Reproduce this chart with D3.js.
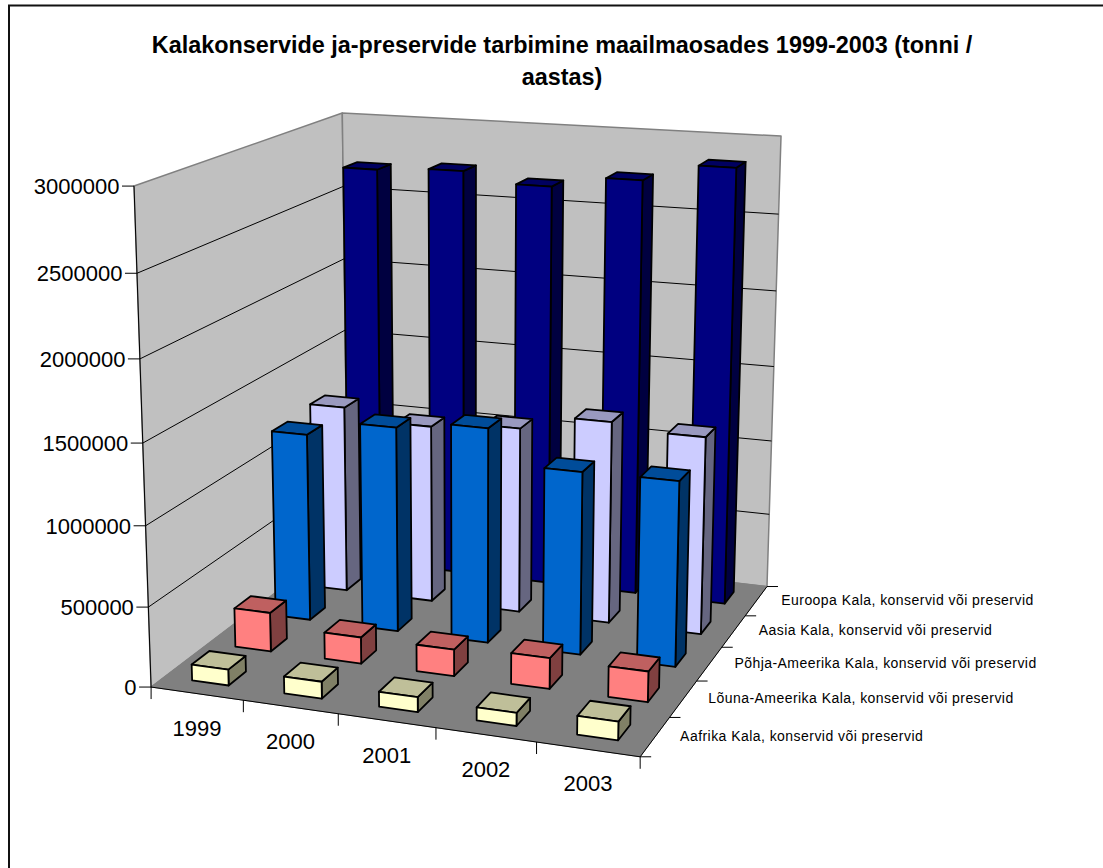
<!DOCTYPE html>
<html><head><meta charset="utf-8">
<script src="https://cdn.jsdelivr.net/npm/d3@7"></script>
<style>html,body{margin:0;padding:0;background:#fff}svg{display:block}text{font-family:"Liberation Sans",Arial,sans-serif;fill:#000}</style>
</head><body><div id="c"></div>
<script>
const categories = ["1999","2000","2001","2002","2003"];
const seriesNames = [
 "Aafrika Kala, konservid või preservid",
 "Lõuna-Ameerika Kala, konservid või preservid",
 "Põhja-Ameerika Kala, konservid või preservid",
 "Aasia Kala, konservid või preservid",
 "Euroopa Kala, konservid või preservid"];
const aafrika = [100000,105000,92000,80000,112000];
const louna = [250000,168000,168000,193000,190000];
const pohja = [1223000,1327000,1380000,1165000,1170000];
const aasia = [1246000,1175000,1220000,1320000,1280000];
const euroopa = [2705000,2730000,2665000,2740000,2854000];
const seriesValues = [aafrika,louna,pohja,aasia,euroopa];
const yTicks = [0,500000,1000000,1500000,2000000,2500000,3000000];
const frontColors = ["#FFFFCC","#FF8080","#0066CC","#CCCCFF","#000080"];
const sideColors = ["#808066","#804040","#003366","#666680","#000040"];
const topColors = ["#BFBF99","#BF6060","#004C99","#9999BF","#000060"];
const W=1103,H=868;
const svg=d3.select("#c").append("svg").attr("width",W).attr("height",H);

// calibration: cube corners [x,y,z] -> pixel
const calib=[
 [0,0,0,152,687],[0,1,0,133,186],[1,0,0,640,757],
 [1,0,1,767,587],[1,1,1,781,137],[0,0,1,347,538],[0,1,1,343,113],
 [0,.5,0,143,443],[1,.5,1,774,365]];
function solve(A,b){const n=b.length;const M=A.map((r,i)=>[...r,b[i]]);
 for(let i=0;i<n;i++){let p=i;for(let k=i+1;k<n;k++)if(Math.abs(M[k][i])>Math.abs(M[p][i]))p=k;[M[i],M[p]]=[M[p],M[i]];
  for(let k=0;k<n;k++)if(k!==i){const f=M[k][i]/M[i][i];for(let j=i;j<=n;j++)M[k][j]-=f*M[i][j];}}
 return M.map((r,i)=>r[n]/r[i]);}
const rows=[],rhs=[];
calib.forEach(([x,y,z,u,v])=>{
 rows.push([x,y,z,1,0,0,0,0,-u*x,-u*y,-u*z]);rhs.push(u);
 rows.push([0,0,0,0,x,y,z,1,-v*x,-v*y,-v*z]);rhs.push(v);});
const AtA=d3.range(11).map(i=>d3.range(11).map(j=>d3.sum(rows,r=>r[i]*r[j])));
const Atb=d3.range(11).map(i=>d3.sum(rows,(r,k)=>r[i]*rhs[k]));
const P=solve(AtA,Atb);
const proj=(x,y,z)=>{const w=P[8]*x+P[9]*y+P[10]*z+1;return [(P[0]*x+P[1]*y+P[2]*z+P[3])/w,(P[4]*x+P[5]*y+P[6]*z+P[7])/w];};

const xS=d3.scaleBand().domain(categories).range([0,1]).paddingInner(0.6).paddingOuter(0.3);
const zS=d3.scaleBand().domain(d3.range(5)).range([0,1]).paddingInner(0.6).paddingOuter(0.3);
const yS=d3.scaleLinear().domain([0,3000000]).range([0,1]);
const xEdge=d3.scaleLinear().domain([0,5]).range([0,1]);
const line=d3.line();
const poly=(pts,fill,stroke,sw)=>svg.append("path").attr("d",line(pts.map(p=>proj(...p)))+"Z").attr("fill",fill).attr("stroke",stroke||"none").attr("stroke-width",sw||0).attr("stroke-linejoin","round");
const seg=(a,b,stroke,sw)=>svg.append("line").attr("x1",a[0]).attr("y1",a[1]).attr("x2",b[0]).attr("y2",b[1]).attr("stroke",stroke).attr("stroke-width",sw);

// chart frame (right and bottom edges fall outside the picture)
svg.append("rect").attr("x",9).attr("y",5.5).attr("width",1200).attr("height",1000).attr("fill","#fff").attr("stroke","#111").attr("stroke-width",2);

// title
const title=svg.append("text").attr("text-anchor","middle").attr("font-weight","bold").style("font-size","23.4px");
title.append("tspan").attr("x",562).attr("y",53).text("Kalakonservide ja-preservide tarbimine maailmaosades 1999-2003 (tonni /");
title.append("tspan").attr("x",562).attr("y",84.5).text("aastas)");

// walls & floor
poly([[0,0,0],[0,1,0],[0,1,1],[0,0,1]],"#C0C0C0","#808080",1.5);
poly([[0,0,1],[0,1,1],[1,1,1],[1,0,1]],"#C0C0C0","#808080",1.5);
poly([[0,0,0],[1,0,0],[1,0,1],[0,0,1]],"#808080","#808080",1);
// gridlines
yTicks.slice(1,-1).forEach(t=>{const y=yS(t);
 const a=proj(0,y,0),b=proj(0,y,1),c=proj(1,y,1);
 svg.append("path").attr("d",line([a,b,c])).attr("fill","none").attr("stroke","#000").attr("stroke-width",1);});
// axes
seg(proj(0,0,0),proj(0,1,0),"#000",1);
seg(proj(0,0,0),proj(1,0,0),"#000",1);
seg(proj(1,0,0),proj(1,0,1),"#000",1);
yTicks.forEach(t=>{const p=proj(0,yS(t),0);seg([p[0]-12,p[1]],p,"#000",1);
 svg.append("text").attr("x",p[0]-14.5).attr("y",p[1]+8).attr("text-anchor","end").style("font-size","22px").text(t);});
categories.forEach((c,i)=>{const p=proj(xEdge(i),0,0);seg(p,[p[0],p[1]+12],"#000",1);
 if(i===4){const q=proj(1,0,0);seg(q,[q[0],q[1]+12],"#000",1);}
 const a=proj(xS(c)+xS.bandwidth()/2,0,0);
 svg.append("text").attr("x",a[0]).attr("y",a[1]+42).attr("text-anchor","middle").style("font-size","22px").text(c);});
const zEdge=d3.scaleLinear().domain([0,5]).range([0,1]);
d3.range(6).forEach(i=>{const p=proj(1,0,zEdge(i));seg(p,[p[0]+11,p[1]],"#000",1);});
seriesNames.forEach((s,i)=>{const p=proj(1,0,zEdge(i+.5));
 svg.append("text").attr("x",p[0]+25).attr("y",p[1]+4).style("font-size","14px").style("letter-spacing","0.45px").text(s);});

// bars, back to front
d3.range(4,-1,-1).forEach(si=>{
 categories.forEach((c,ci)=>{
  const x0=xS(c),x1=x0+xS.bandwidth(),z0=zS(si),z1=z0+zS.bandwidth(),h=yS(seriesValues[si][ci]);
  const st="#000",sw=1.8;
  poly([[x1,0,z0],[x1,h,z0],[x1,h,z1],[x1,0,z1]],sideColors[si],st,sw);
  poly([[x0,h,z0],[x1,h,z0],[x1,h,z1],[x0,h,z1]],topColors[si],st,sw);
  poly([[x0,0,z0],[x1,0,z0],[x1,h,z0],[x0,h,z0]],frontColors[si],st,sw);
 });
});
</script></body></html>
